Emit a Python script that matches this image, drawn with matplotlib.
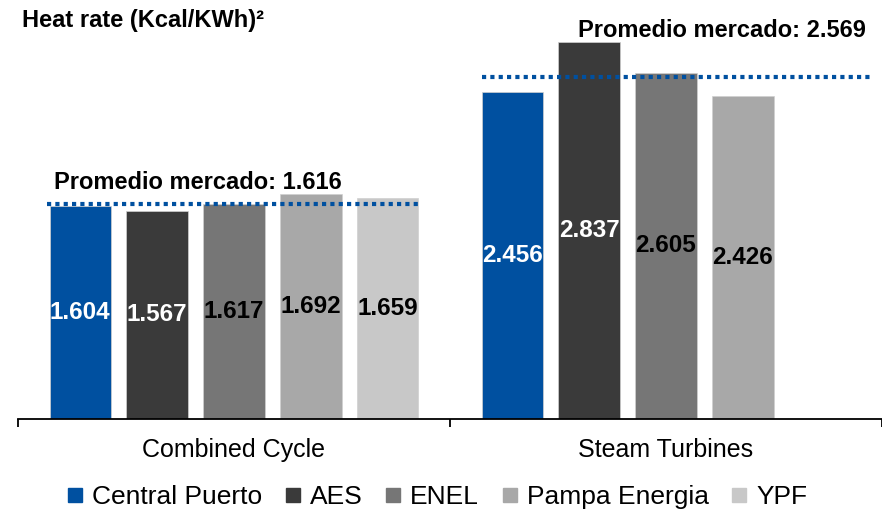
import matplotlib.pyplot as plt
from matplotlib.lines import Line2D
import numpy as np

plt.rcParams['font.family'] = ['Liberation Sans', 'DejaVu Sans']

# heat rate by technology and generator
categories = ['Combined Cycle', 'Steam Turbines']
companies = ['Central Puerto', 'AES', 'ENEL', 'Pampa Energia', 'YPF']
combined = [1.604, 1.567, 1.617, 1.692, 1.659]
steam = [2.456, 2.837, 2.605, 2.426, None]
market_avg = [1.616, 2.569]

colors = ['#0050a0', '#3a3a3a', '#767676', '#a8a8a8', '#c8c8c8']
label_colors = ['white', 'white', 'black', 'black', 'black']

W, H = 882, 513
fig = plt.figure(figsize=(W / 100, H / 100), dpi=100)
ax = fig.add_axes([18 / W, (H - 419) / H, (W - 18) / W, 419 / H])

offsets = np.array([-0.356, -0.178, 0.0, 0.178, 0.356])
bw = 0.142
xmax = 0.5 + (W - 18) / 438 - 1

for gi, vals in enumerate([combined, steam]):
    for j, v in enumerate(vals):
        if v is None:
            continue
        x = gi + offsets[j]
        ax.bar(x, v, width=bw, color=colors[j], edgecolor='#d0d0d0', linewidth=0.5)
        ax.text(x, v / 2, f'{v:.3f}', ha='center', va='center', fontsize=17.5,
                fontweight='bold', color=label_colors[j])

# market average lines
n_cc = len([v for v in combined if v is not None])
x0 = 0 + offsets[0] - bw / 2 - 0.005
x1 = 0 + offsets[n_cc - 1] + bw / 2 + 0.005
ax.plot([x0, x1], [market_avg[0]] * 2, color='#0050a0', lw=3, ls=(0, (1, 1)))
ax.text(x0 + 0.015, market_avg[0] + 0.16, f'Promedio mercado: {market_avg[0]:.3f}',
        ha='left', va='center', fontsize=17, fontweight='bold')
x0 = 1 + offsets[0] - bw / 2
ax.plot([x0, xmax], [market_avg[1]] * 2, color='#0050a0', lw=3, ls=(0, (1, 1)))
ax.text(xmax - 0.01, 2.92, f'Promedio mercado: {market_avg[1]:.3f}',
        ha='right', va='center', fontsize=17, fontweight='bold')

ax.set_xlim(-0.5, xmax)
ax.set_ylim(0, 419 / 133)
for s in ['top', 'right', 'left']:
    ax.spines[s].set_visible(False)
ax.spines['bottom'].set_linewidth(1.3)
ax.set_yticks([])
ax.set_xticks([-0.5, 0.5, 1.5])
ax.set_xticklabels([])
ax.tick_params(axis='x', direction='out', length=6, width=1.3)
for i, c in enumerate(categories):
    ax.text(i, -0.235, c, ha='center', va='center', fontsize=18)

fig.text(22 / W, 1 - 20 / H, 'Heat rate (Kcal/KWh)²', ha='left', va='center',
         fontsize=17, fontweight='bold')

handles = [Line2D([], [], marker='s', ls='', color=c, markersize=10) for c in colors]
fig.legend(handles, companies, loc='center', bbox_to_anchor=(436 / W, 1 - 497 / H),
           ncol=5, frameon=False, fontsize=19, handlelength=0.8, handletextpad=0.25,
           columnspacing=0.75, borderpad=0, borderaxespad=0)

fig.savefig('out.png', dpi=100)
